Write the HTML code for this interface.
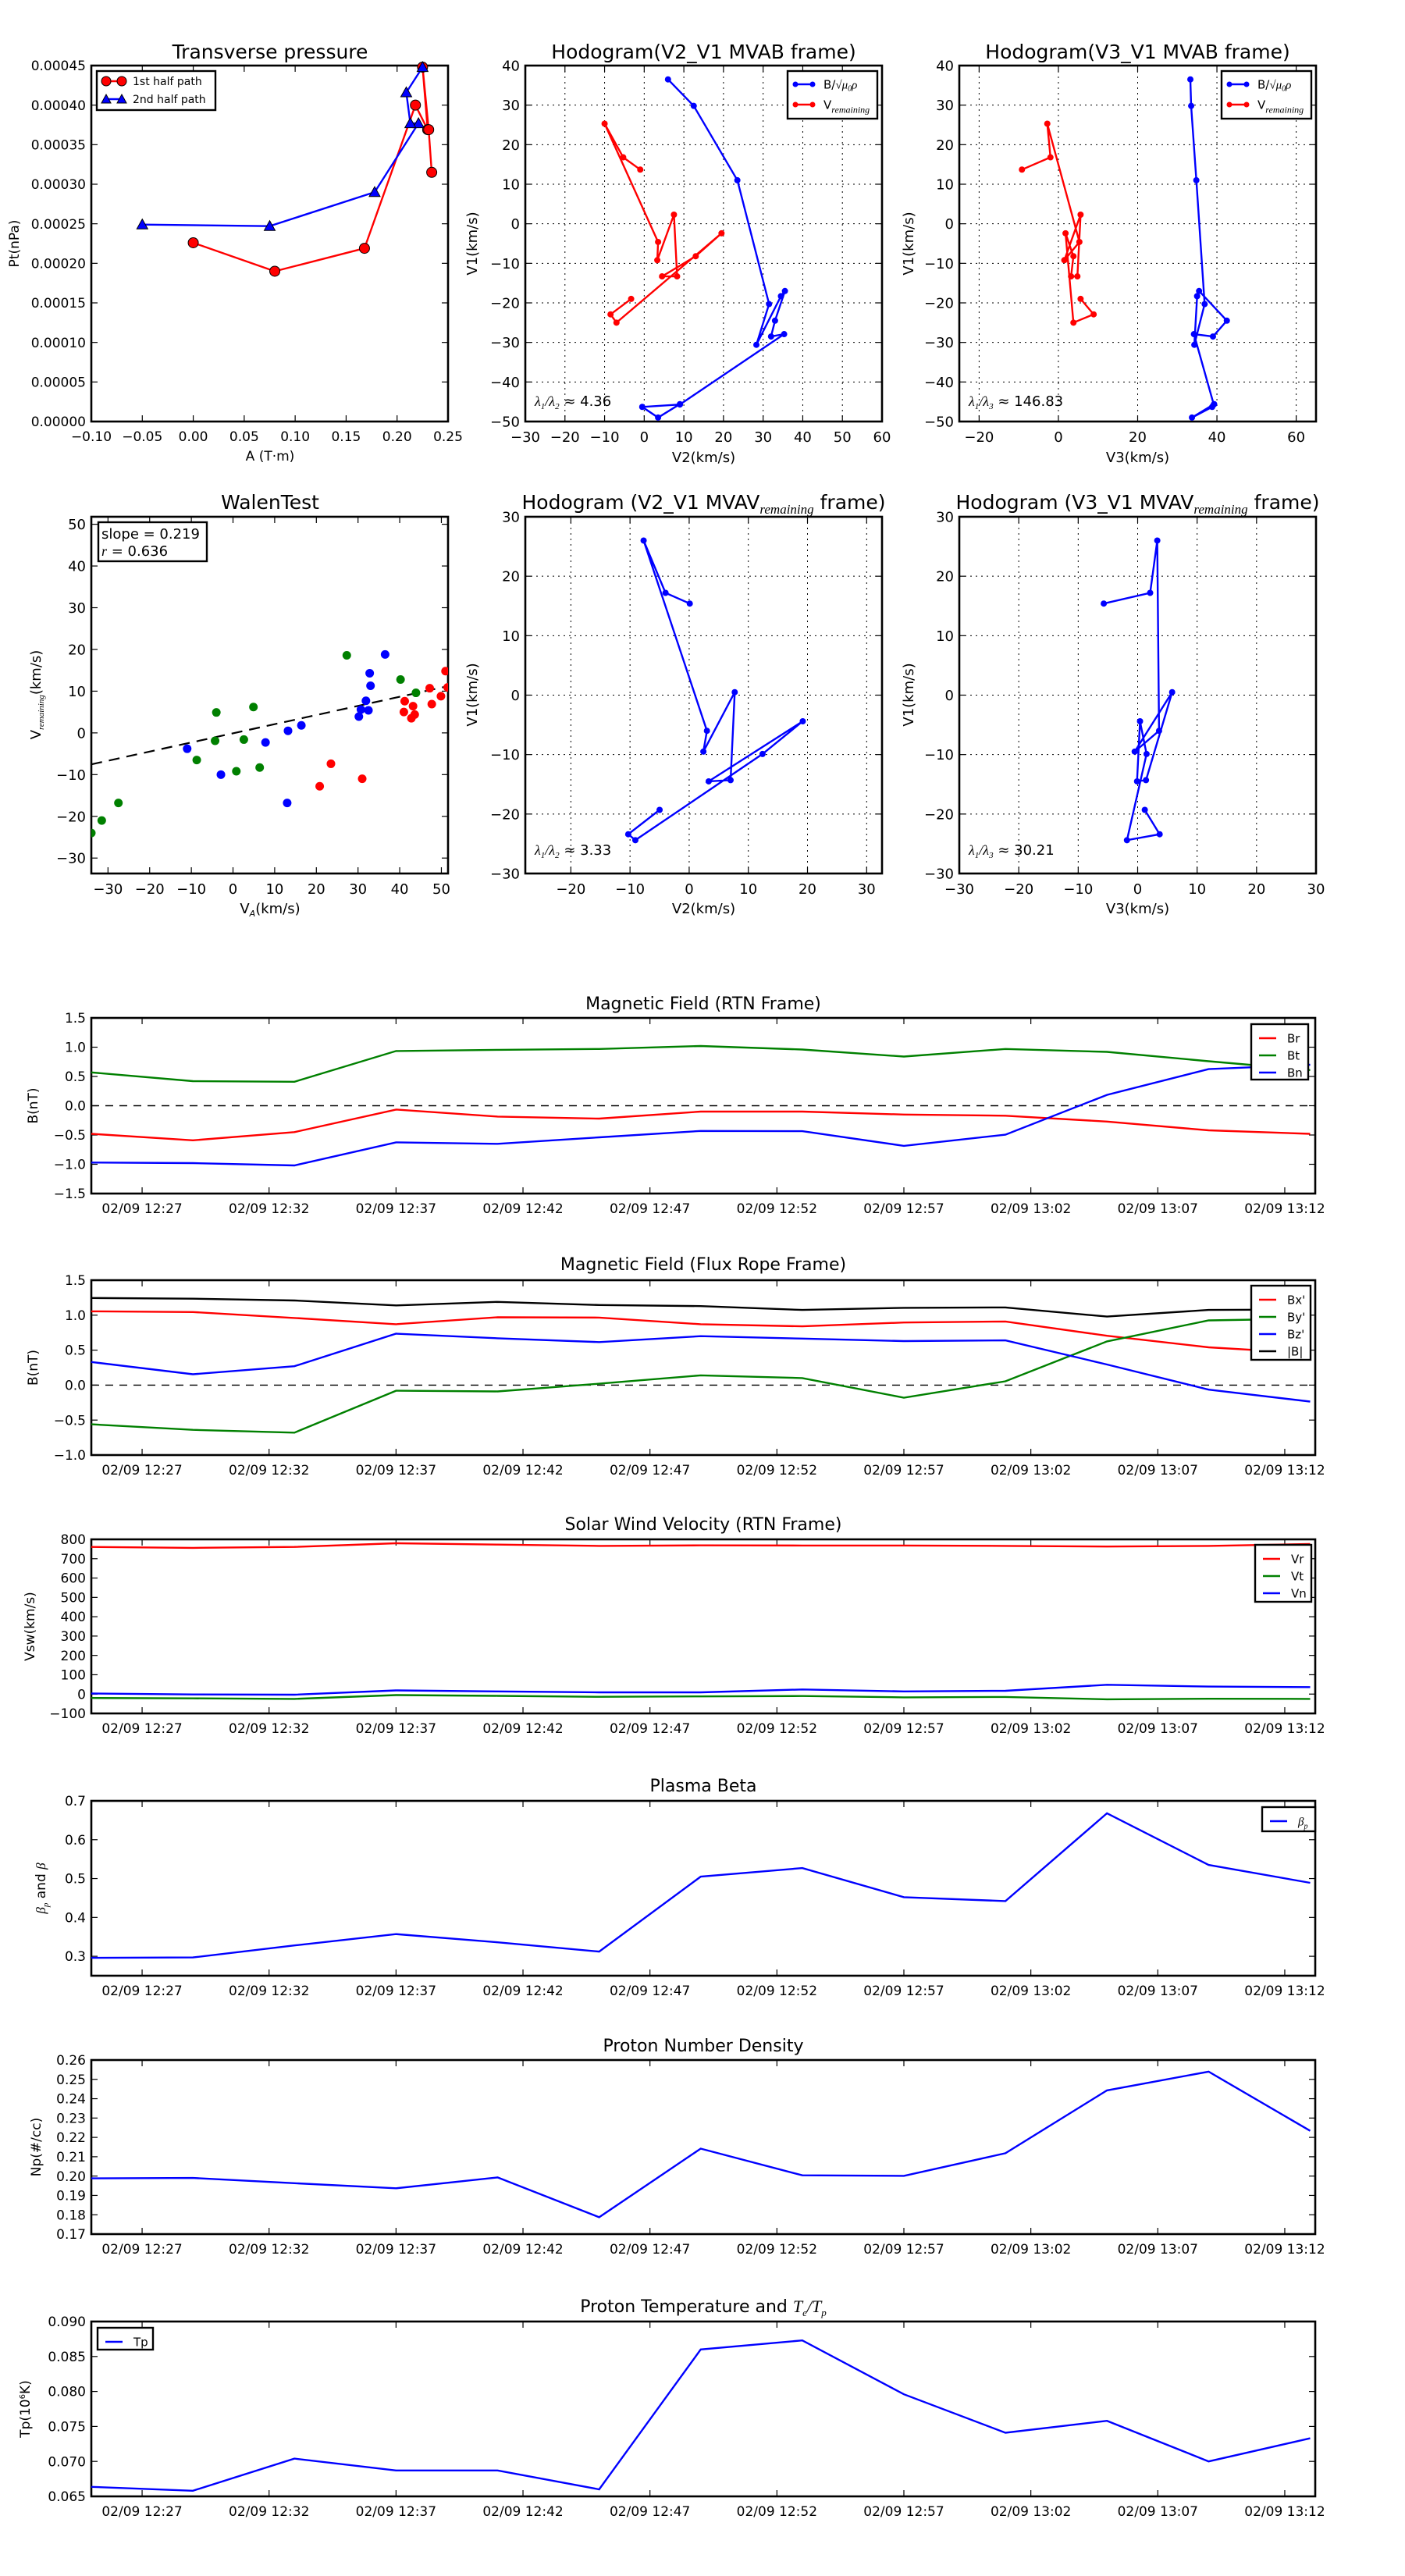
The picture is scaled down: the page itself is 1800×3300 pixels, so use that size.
<!DOCTYPE html>
<html><head><meta charset="utf-8"><style>
html,body{margin:0;padding:0;background:#fff;}
svg{display:block;font-family:"DejaVu Sans","Liberation Sans",sans-serif;}
</style></head><body>
<svg id="fig" width="1800" height="3300" viewBox="0 0 1800 3300" xmlns="http://www.w3.org/2000/svg"></svg>
<script>
// ---------- DATA ----------
const tpA1 = [0, 0.080, 0.168, 0.218, 0.230, 0.225, 0.231, 0.234];
const tpP1 = [0.000226, 0.000190, 0.000219, 0.000400, 0.000369, 0.000448, 0.000369, 0.000315];
const tpA2 = [-0.050, 0.075, 0.178, 0.221, 0.213, 0.209, 0.225];
const tpP2 = [0.000249, 0.000247, 0.000290, 0.000377, 0.000377, 0.000416, 0.000448];

const hbV1 = [36.5, 29.8, 11, -20.3, -30.6, -18.3, -17, -24.5, -28.5, -27.9, -45.7, -46.3, -49, -45.6];
const hbV2 = [6, 12.5, 23.5, 31.5, 28.3, 34.5, 35.5, 33, 32, 35.3, 9, -0.5, 3.5, 9];
const hbV3 = [33.3, 33.5, 34.8, 36.9, 34.3, 35, 35.5, 42.5, 39, 34.2, 39.2, 38.8, 33.7, 39.3];
const hrV1 = [13.7, 16.8, 25.3, -4.6, -9.2, 2.3, -13.3, -13.3, -8.2, -2.4, -25, -22.9, -19];
const hrV2 = [-1, -5.3, -10, 3.5, 3.3, 7.5, 8.3, 4.5, 13, 19.5, -7, -8.5, -3.3];
const hrV3 = [-9.2, -2, -2.8, 5.3, 1.5, 5.6, 4.8, 3.2, 3.8, 1.8, 3.8, 8.9, 5.6];

const wgX = [-34, -31.5, -27.5, -8.7, -4.3, -4, 0.8, 2.6, 4.9, 6.4, 27.3, 40.2, 43.9];
const wgY = [-24, -21, -16.8, -6.5, -1.9, 4.9, -9.2, -1.6, 6.2, -8.3, 18.6, 12.8, 9.6];
const wbX = [-11, -2.9, 7.8, 13.2, 13, 16.4, 30.2, 30.7, 31.9, 32.5, 32.8, 33, 36.5];
const wbY = [-3.8, -10, -2.3, 0.5, -16.8, 1.8, 3.9, 5.6, 7.7, 5.4, 14.3, 11.3, 18.8];
const wrX = [20.8, 23.5, 31, 41, 41.2, 42.8, 43.2, 43.6, 47.2, 47.7, 49.9, 51, 51.5];
const wrY = [-12.8, -7.4, -11, 5, 7.6, 3.5, 6.4, 4.4, 10.7, 6.9, 8.8, 14.8, 10.9];
const walenFit = [0.219, -0.1];

const mvV1 = [15.4, 17.2, 26, -6, -9.5, 0.5, -14.3, -14.5, -4.4, -9.9, -24.4, -23.4, -19.3];
const mvV2 = [0.1, -4, -7.7, 3, 2.4, 7.7, 7, 3.3, 19.2, 12.4, -9.1, -10.3, -5];
const mvV3 = [-5.7, 2.1, 3.3, 3.6, -0.5, 5.8, 1.4, -0.1, 0.4, 1.5, -1.8, 3.7, 1.2];

// time series: minutes after 12:25
const tMin = [0, 4, 8, 12, 16, 20, 24, 28, 32, 36, 40, 44, 48];
const timeTickMin = [2, 7, 12, 17, 22, 27, 32, 37, 42, 47];
const timeTickLabels = ["02/09 12:27","02/09 12:32","02/09 12:37","02/09 12:42","02/09 12:47","02/09 12:52","02/09 12:57","02/09 13:02","02/09 13:07","02/09 13:12"];
const Br = [-0.48, -0.59, -0.45, -0.065, -0.185, -0.22, -0.10, -0.10, -0.15, -0.17, -0.27, -0.42, -0.48];
const Bt = [0.57, 0.42, 0.41, 0.935, 0.955, 0.97, 1.02, 0.96, 0.84, 0.97, 0.92, 0.76, 0.61];
const Bn = [-0.97, -0.98, -1.02, -0.625, -0.65, -0.54, -0.43, -0.435, -0.685, -0.495, 0.185, 0.625, 0.70];
const Bxp = [1.055, 1.045, 0.96, 0.87, 0.97, 0.965, 0.87, 0.84, 0.895, 0.91, 0.705, 0.54, 0.455];
const Byp = [-0.56, -0.64, -0.68, -0.08, -0.09, 0.02, 0.14, 0.10, -0.18, 0.055, 0.625, 0.925, 0.95];
const Bzp = [0.33, 0.155, 0.27, 0.735, 0.67, 0.615, 0.70, 0.665, 0.63, 0.64, 0.295, -0.065, -0.235];
const Bmag = [1.245, 1.235, 1.21, 1.14, 1.19, 1.145, 1.13, 1.075, 1.105, 1.11, 0.98, 1.075, 1.08];
const Vr = [761, 756, 761, 780, 773, 766, 769, 768, 768, 766, 763, 766, 776];
const Vt = [-20, -22, -25, -5, -9, -14, -12, -10, -17, -15, -27, -24, -25];
const Vn = [3, -2, -3, 19, 14, 9, 9, 24, 14, 17, 48, 39, 36];
const betaP = [0.296, 0.297, 0.328, 0.357, 0.336, 0.312, 0.505, 0.527, 0.452, 0.442, 0.668, 0.535, 0.489];
const Np = [0.1988, 0.199, 0.1963, 0.1937, 0.1993, 0.1787, 0.2142, 0.2004, 0.2001, 0.2118, 0.2443, 0.254, 0.2234];
const Tp = [0.06636, 0.0658, 0.0704, 0.0687, 0.0687, 0.0660, 0.0860, 0.0873, 0.0796, 0.0741, 0.0758, 0.0700, 0.0733];

// ---------- HELPERS ----------
const NS = 'http://www.w3.org/2000/svg';
const svg = document.getElementById('fig');
function mk(tag, attrs, parent) {
  const e = document.createElementNS(NS, tag);
  for (const k in attrs) e.setAttribute(k, attrs[k]);
  (parent || svg).appendChild(e);
  return e;
}
function nm(el, name) {
  
  
  return el;
}
function fmtMinus(s) { return String(s).replace('-', '\u2212'); }
function range(a, b, s) { const r = []; for (let v = a; v <= b + s * 1e-6; v += s) r.push(Math.round(v / s) * s); return r; }

function axes(o) {
  const g = mk('g', {});
  nm(g, o.name);
  const sx = v => o.x0 + (v - o.xmin) / (o.xmax - o.xmin) * (o.x1 - o.x0);
  const sy = v => o.y1 - (v - o.ymin) / (o.ymax - o.ymin) * (o.y1 - o.y0);
  const fs = o.fs || 18;
  // grid
  if (o.grid) {
    o.xticks.forEach(v => { const l = mk('line', {x1: sx(v), x2: sx(v), y1: o.y0, y2: o.y1, stroke: '#000', 'stroke-width': 1, 'stroke-dasharray': '2,5'}, g); nm(l, 'x-grid-line'); });
    o.yticks.forEach(v => { const l = mk('line', {x1: o.x0, x2: o.x1, y1: sy(v), y2: sy(v), stroke: '#000', 'stroke-width': 1, 'stroke-dasharray': '2,5'}, g); nm(l, 'y-grid-line'); });
  }
  const tl = 8;
  o.xticks.forEach((v, i) => {
    const x = sx(v);
    mk('line', {x1: x, x2: x, y1: o.y1, y2: o.y1 - tl, stroke: '#000', 'stroke-width': 1.2}, g);
    mk('line', {x1: x, x2: x, y1: o.y0, y2: o.y0 + tl, stroke: '#000', 'stroke-width': 1.2}, g);
    const lab = o.xlabels ? o.xlabels[i] : fmtMinus(o.xfmt ? o.xfmt(v) : v);
    const t = mk('text', {x: x, y: o.y1 + fs + 8, 'text-anchor': 'middle', 'font-size': fs}, g);
    nm(t, 'x-tick-label');
    t.textContent = lab;
  });
  o.yticks.forEach(v => {
    const y = sy(v);
    mk('line', {x1: o.x0, x2: o.x0 + tl, y1: y, y2: y, stroke: '#000', 'stroke-width': 1.2}, g);
    mk('line', {x1: o.x1, x2: o.x1 - tl, y1: y, y2: y, stroke: '#000', 'stroke-width': 1.2}, g);
    const t = mk('text', {x: o.x0 - 7, y: y + fs * 0.36, 'text-anchor': 'end', 'font-size': fs}, g);
    nm(t, 'y-tick-label');
    t.textContent = fmtMinus(o.yfmt ? o.yfmt(v) : v);
  });
  const fr = mk('rect', {x: o.x0, y: o.y0, width: o.x1 - o.x0, height: o.y1 - o.y0, fill: 'none', stroke: '#000', 'stroke-width': 2.6}, g);
  nm(fr, 'plot-frame');
  return {sx, sy, g, o};
}
function title(x, y, txt, fs, name) {
  const t = mk('text', {x: x, y: y, 'text-anchor': 'middle', 'font-size': fs});
  nm(t, name);
  t.innerHTML = txt;
  return t;
}
function xlabel(x, y, txt, fs) {
  const t = mk('text', {x: x, y: y, 'text-anchor': 'middle', 'font-size': fs});
  nm(t, 'x-axis-title');
  t.innerHTML = txt;
}
function ylabel(x, y, txt, fs) {
  const t = mk('text', {x: x, y: y, 'text-anchor': 'middle', 'font-size': fs, transform: `rotate(-90 ${x} ${y})`});
  nm(t, 'y-axis-title');
  t.innerHTML = txt;
}
function polyline(ax, xs, ys, color, w, name) {
  const pts = xs.map((v, i) => ax.sx(v).toFixed(1) + ',' + ax.sy(ys[i]).toFixed(1)).join(' ');
  const p = mk('polyline', {points: pts, fill: 'none', stroke: color, 'stroke-width': w || 2.4, 'stroke-linejoin': 'miter'}, ax.g);
  nm(p, name);
  return p;
}
function dots(ax, xs, ys, color, r, name, stroke) {
  xs.forEach((v, i) => {
    const c = mk('circle', {cx: ax.sx(v), cy: ax.sy(ys[i]), r: r, fill: color, stroke: stroke || 'none', 'stroke-width': 1}, ax.g);
    nm(c, name);
  });
}
function tris(ax, xs, ys, color, s, name) {
  xs.forEach((v, i) => {
    const x = ax.sx(v), y = ax.sy(ys[i]);
    const p = mk('polygon', {points: `${x},${y - s} ${x - s},${y + s * 0.8} ${x + s},${y + s * 0.8}`, fill: color, stroke: '#000', 'stroke-width': 1}, ax.g);
    nm(p, name);
  });
}
function legendBox(x, y, w, h, name) {
  const r = mk('rect', {x: x, y: y, width: w, height: h, fill: '#fff', stroke: '#000', 'stroke-width': 2.4});
  nm(r, name);
}
function legendEntry(x, y, color, label, fs, marker, len) {
  const g = mk('g', {});
  nm(g, 'legend-entry');
  len = len || 24;
  mk('line', {x1: x, x2: x + len, y1: y, y2: y, stroke: color, 'stroke-width': 2.4}, g);
  if (marker === 'dot') { mk('circle', {cx: x, cy: y, r: 3.5, fill: color}, g); mk('circle', {cx: x + len, cy: y, r: 3.5, fill: color}, g); }
  if (marker === 'big') { mk('circle', {cx: x, cy: y, r: 6, fill: color, stroke: '#000'}, g); mk('circle', {cx: x + len, cy: y, r: 6, fill: color, stroke: '#000'}, g); }
  if (marker === 'tri') { [x, x + len].forEach(c => mk('polygon', {points: `${c},${y - 6} ${c - 6},${y + 5} ${c + 6},${y + 5}`, fill: color, stroke: '#000'}, g)); }
  const t = mk('text', {x: x + len + 14, y: y + fs * 0.36, 'font-size': fs}, g);
  t.innerHTML = label;
}
const SUBREM = '<tspan font-style="italic" font-family="Liberation Serif, serif" font-size="12" dy="5">remaining</tspan>';
const BLAB = 'B/<tspan font-family="Liberation Serif, serif">√<tspan font-style="italic">μ<tspan font-size="10" dy="3">0</tspan><tspan dy="-3">ρ</tspan></tspan></tspan>';

// ---------- TOP ROW ----------
// Transverse pressure
(function(){
  const ax = axes({name: 'transverse-pressure-plot', x0: 117, x1: 574, y0: 84, y1: 540, xmin: -0.10, xmax: 0.25, ymin: 0, ymax: 0.00045,
    xticks: range(-0.10, 0.25, 0.05), yticks: range(0, 0.00045, 0.00005), xfmt: v => v.toFixed(2), yfmt: v => v.toFixed(5), fs: 17});
  title(346, 75, 'Transverse pressure', 25, 'transverse-pressure-title');
  xlabel(346, 590, 'A (T·m)', 17);
  ylabel(24, 312, 'Pt(nPa)', 17);
  polyline(ax, tpA1, tpP1, '#f00', 2.4, 'first-half-path-line');
  polyline(ax, tpA2, tpP2, '#00f', 2.4, 'second-half-path-line');
  dots(ax, tpA1, tpP1, '#f00', 6.5, 'first-half-point', '#000');
  tris(ax, tpA2, tpP2, '#00f', 7, 'second-half-point');
  legendBox(124, 91, 152, 50, 'pressure-legend');
  legendEntry(136, 104, '#f00', '1st half path', 14, 'big', 20);
  legendEntry(136, 127, '#00f', '2nd half path', 14, 'tri', 20);
})();

function hodo(name, x0, x1, y0, y1, xmin, xmax, ymin, ymax, xticks, yticks, bx, by, rx, ry, ttl, ty, xl, xly, lam, lamY, leg) {
  const ax = axes({name: name, x0: x0, x1: x1, y0: y0, y1: y1, xmin: xmin, xmax: xmax, ymin: ymin, ymax: ymax, xticks: xticks, yticks: yticks, grid: true, fs: 18});
  title((x0 + x1) / 2, ty, ttl, 25, name + '-title');
  xlabel((x0 + x1) / 2, xly, xl, 18);
  polyline(ax, bx, by, '#00f', 2.4, 'b-field-line');
  dots(ax, bx, by, '#00f', 4, 'b-field-point');
  if (rx) { polyline(ax, rx, ry, '#f00', 2.4, 'v-remaining-line'); dots(ax, rx, ry, '#f00', 4, 'v-remaining-point'); }
  const t = mk('text', {x: x0 + 12, y: lamY, 'font-size': 18});
  nm(t, 'eigenvalue-ratio');
  t.innerHTML = lam;
  if (leg) {
    legendBox(x1 - 121, y0 + 7, 115, 61, 'hodogram-legend');
    legendEntry(x1 - 111, y0 + 24, '#00f', BLAB, 15, 'dot', 22);
    legendEntry(x1 - 111, y0 + 50, '#f00', 'V' + SUBREM, 15, 'dot', 22);
  }
}
const LAM12 = '<tspan font-family="Liberation Serif, serif" font-style="italic">λ<tspan font-size="11" dy="4">1</tspan><tspan dy="-4">/λ</tspan><tspan font-size="11" dy="4">2</tspan></tspan><tspan dy="-4"> ≈ </tspan>';
const LAM13 = '<tspan font-family="Liberation Serif, serif" font-style="italic">λ<tspan font-size="11" dy="4">1</tspan><tspan dy="-4">/λ</tspan><tspan font-size="11" dy="4">3</tspan></tspan><tspan dy="-4"> ≈ </tspan>';

hodo('hodogram-v2-v1-mvab', 673, 1130, 84, 540, -30, 60, -50, 40, range(-30, 60, 10), range(-50, 40, 10),
  hbV2, hbV1, hrV2, hrV1, 'Hodogram(V2_V1 MVAB frame)', 75, 'V2(km/s)', 592, LAM12 + '4.36', 520, true);
ylabel(611, 312, 'V1(km/s)', 18);
hodo('hodogram-v3-v1-mvab', 1229, 1686, 84, 540, -25, 65, -50, 40, [-20, 0, 20, 40, 60], range(-50, 40, 10),
  hbV3, hbV1, hrV3, hrV1, 'Hodogram(V3_V1 MVAB frame)', 75, 'V3(km/s)', 592, LAM13 + '146.83', 520, true);
ylabel(1170, 312, 'V1(km/s)', 18);

// ---------- SECOND ROW ----------
(function(){
  const ax = axes({name: 'walen-test-plot', x0: 117, x1: 574, y0: 662, y1: 1119, xmin: -34, xmax: 51.6, ymin: -33.7, ymax: 51.8,
    xticks: range(-30, 50, 10), yticks: range(-30, 50, 10), fs: 18});
  title(346, 652, 'WalenTest', 25, 'walen-test-title');
  xlabel(346, 1170, 'V<tspan font-size="11" font-style="italic" dy="4">A</tspan><tspan dy="-4">(km/s)</tspan>', 18);
  ylabel(52, 890, 'V<tspan font-size="11" font-style="italic" font-family="Liberation Serif, serif" dy="4">remaining</tspan><tspan dy="-4">(km/s)</tspan>', 18);
  const fx = [ax.o.xmin, ax.o.xmax];
  const fy = fx.map(v => walenFit[0] * v + walenFit[1]);
  const l = polyline(ax, fx, fy, '#000', 2.2, 'walen-fit-line');
  l.setAttribute('stroke-dasharray', '14,9');
  const clip = mk('clipPath', {id: 'wclip'});
  mk('rect', {x: 117, y: 662, width: 457, height: 457}, clip);
  const dg = mk('g', {'clip-path': 'url(#wclip)'}, ax.g);
  nm(dg, 'walen-points');
  const sub = {sx: ax.sx, sy: ax.sy, g: dg};
  dots(sub, wgX, wgY, '#008000', 5.5, 'walen-point-green');
  dots(sub, wbX, wbY, '#00f', 5.5, 'walen-point-blue');
  dots(sub, wrX, wrY, '#f00', 5.5, 'walen-point-red');
  legendBox(126, 669, 139, 50, 'walen-stats-box');
  const t1 = mk('text', {x: 130, y: 690, 'font-size': 18}); nm(t1, 'slope-text'); t1.textContent = 'slope = 0.219';
  const t2 = mk('text', {x: 130, y: 712, 'font-size': 18}); nm(t2, 'r-text'); t2.innerHTML = '<tspan font-style="italic" font-family="Liberation Serif, serif">r</tspan> = 0.636';
})();

const MVT = (v) => `Hodogram (${v} MVAV<tspan font-style="italic" font-family="Liberation Serif, serif" font-size="17" dy="6">remaining</tspan><tspan dy="-6"> frame)</tspan>`;
hodo('hodogram-v2-v1-mvav', 673, 1130, 662, 1119, -27.7, 32.6, -30, 30, range(-20, 30, 10), range(-30, 30, 10),
  mvV2, mvV1, null, null, MVT('V2_V1'), 652, 'V2(km/s)', 1170, LAM12 + '3.33', 1095, false);
ylabel(611, 890, 'V1(km/s)', 18);
hodo('hodogram-v3-v1-mvav', 1229, 1686, 662, 1119, -30, 30, -30, 30, range(-30, 30, 10), range(-30, 30, 10),
  mvV3, mvV1, null, null, MVT('V3_V1'), 652, 'V3(km/s)', 1170, LAM13 + '30.21', 1095, false);
ylabel(1170, 890, 'V1(km/s)', 18);

// ---------- TIME SERIES ----------
function ts(name, y0, y1, ymin, ymax, yticks, yfmt, ttl, ty, yl, ylx, series, zero, leg) {
  const ax = axes({name: name, x0: 117, x1: 1685, y0: y0, y1: y1, xmin: 0, xmax: 48.2, ymin: ymin, ymax: ymax,
    xticks: timeTickMin, xlabels: timeTickLabels, yticks: yticks, yfmt: yfmt, fs: 17});
  title(901, ty, ttl, 22, name + '-title');
  ylabel(ylx, (y0 + y1) / 2, yl, 17);
  if (zero) {
    const z = polyline(ax, [0, 48.2], [0, 0], '#000', 1.4, 'zero-line');
    z.setAttribute('stroke-dasharray', '10,8');
  }
  series.forEach(s => polyline(ax, tMin, s.d, s.c, 2.4, s.n));
  if (leg) {
    legendBox(leg.x, leg.y, leg.w, leg.h, name + '-legend');
    series.forEach((s, i) => legendEntry(leg.x + 10, leg.y + 18 + i * 22, s.c, s.l, 15, null, 22));
  }
  return ax;
}
ts('magnetic-field-rtn', 1304, 1529, -1.5, 1.5, range(-1.5, 1.5, 0.5), v => v.toFixed(1), 'Magnetic Field (RTN Frame)', 1293, 'B(nT)', 48,
  [{d: Br, c: '#f00', n: 'br-line', l: 'Br'}, {d: Bt, c: '#008000', n: 'bt-line', l: 'Bt'}, {d: Bn, c: '#00f', n: 'bn-line', l: 'Bn'}], true,
  {x: 1603, y: 1312, w: 73, h: 71});
ts('magnetic-field-flux-rope', 1640, 1864, -1.0, 1.5, range(-1.0, 1.5, 0.5), v => v.toFixed(1), 'Magnetic Field (Flux Rope Frame)', 1627, 'B(nT)', 48,
  [{d: Bxp, c: '#f00', n: 'bx-prime-line', l: "Bx'"}, {d: Byp, c: '#008000', n: 'by-prime-line', l: "By'"}, {d: Bzp, c: '#00f', n: 'bz-prime-line', l: "Bz'"}, {d: Bmag, c: '#000', n: 'b-magnitude-line', l: '|B|'}], true,
  {x: 1603, y: 1647, w: 76, h: 95});
ts('solar-wind-velocity', 1972, 2195, -100, 800, range(-100, 800, 100), v => v.toFixed(0), 'Solar Wind Velocity (RTN Frame)', 1960, 'Vsw(km/s)', 44,
  [{d: Vr, c: '#f00', n: 'vr-line', l: 'Vr'}, {d: Vt, c: '#008000', n: 'vt-line', l: 'Vt'}, {d: Vn, c: '#00f', n: 'vn-line', l: 'Vn'}], false,
  {x: 1608, y: 1979, w: 72, h: 73});
ts('plasma-beta', 2307, 2531, 0.25, 0.7, range(0.3, 0.7, 0.1), v => v.toFixed(1), 'Plasma Beta', 2295, '<tspan font-style="italic" font-family="Liberation Serif, serif">β<tspan font-size="11" dy="4">p</tspan></tspan><tspan dy="-4"> and </tspan><tspan font-style="italic" font-family="Liberation Serif, serif">β</tspan>', 58,
  [{d: betaP, c: '#00f', n: 'beta-p-line', l: '<tspan font-style="italic" font-family="Liberation Serif, serif">β<tspan font-size="10" dy="4">p</tspan></tspan>'}], false,
  {x: 1617, y: 2315, w: 68, h: 31});
ts('proton-number-density', 2639, 2862, 0.17, 0.26, range(0.17, 0.26, 0.01), v => v.toFixed(2), 'Proton Number Density', 2628, 'Np(#/cc)', 52,
  [{d: Np, c: '#00f', n: 'np-line', l: 'Np'}], false, null);
ts('proton-temperature', 2974, 3198, 0.065, 0.090, range(0.065, 0.090, 0.005), v => v.toFixed(3), 'Proton Temperature and <tspan font-style="italic" font-family="Liberation Serif, serif">T<tspan font-size="13" dy="5">e</tspan><tspan dy="-5">/T</tspan><tspan font-size="13" dy="5">p</tspan></tspan>', 2962, 'Tp(10<tspan font-size="10" dy="-6">6</tspan><tspan dy="6">K)</tspan>', 38,
  [{d: Tp, c: '#00f', n: 'tp-line', l: 'Tp'}], false,
  {x: 125, y: 2982, w: 71, h: 28});
</script>
</body></html>
